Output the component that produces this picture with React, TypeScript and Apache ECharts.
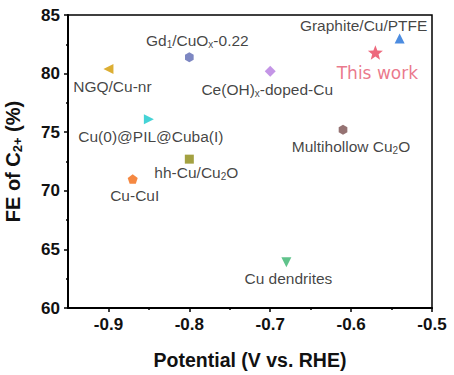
import React, { useEffect, useRef } from "react";
import * as echarts from "echarts";

const names = [
  "Graphite/Cu/PTFE",
  "This work",
  "Gd{sub|1}/CuO{sub|x}-0.22",
  "NGQ/Cu-nr",
  "Ce(OH){sub|x}-doped-Cu",
  "Cu(0)@PIL@Cuba(I)",
  "Multihollow Cu{sub|2}O",
  "hh-Cu/Cu{sub|2}O",
  "Cu-CuI",
  "Cu dendrites",
];
const potentials = [-0.54, -0.57, -0.8, -0.9, -0.7, -0.85, -0.61, -0.8, -0.87, -0.68];
const feValues = [83.0, 81.8, 81.4, 80.4, 80.2, 76.1, 75.2, 72.7, 71.0, 63.9];
const xTickLabels = [-0.9, -0.8, -0.7, -0.6, -0.5];
const xMinorTicks = [-0.85, -0.75, -0.65, -0.55];

const STAR = "path://M12,1 L14.9,8.6 23,9 16.7,14.1 18.8,22 12,17.5 5.2,22 7.3,14.1 1,9 9.1,8.6 Z";
const HEX = "path://M5,0 L9.33,2.5 9.33,7.5 5,10 0.67,7.5 0.67,2.5 Z";
const PENT = "path://M5,0 L9.76,3.45 7.94,9.05 2.06,9.05 0.24,3.45 Z";

const styles = [
  { symbol: "triangle", size: 10, rotate: 0, color: "#1f6fd8", offset: [-36, -13] },
  { symbol: STAR, size: 15, rotate: 0, color: "#e8435c", offset: [2, 20] },
  { symbol: HEX, size: 10, rotate: 0, color: "#5d69b3", offset: [8, -17] },
  { symbol: "triangle", size: 10, rotate: 90, color: "#d39a00", offset: [4, 18] },
  { symbol: "diamond", size: 11, rotate: 0, color: "#b57ae0", offset: [-3, 18] },
  { symbol: "triangle", size: 10, rotate: -90, color: "#17c8cc", offset: [2, 17] },
  { symbol: HEX, size: 10, rotate: 0, color: "#7a4f4f", offset: [8, 17] },
  { symbol: "rect", size: 9, rotate: 0, color: "#8c8a12", offset: [7, 13] },
  { symbol: PENT, size: 10, rotate: 0, color: "#f26a12", offset: [2, 16] },
  { symbol: "triangle", size: 10, rotate: 180, color: "#38b46e", offset: [2, 16] },
];

const FONT = "'Liberation Sans', Arial, sans-serif";

export default function App() {
  const ref = useRef<HTMLDivElement>(null);
  useEffect(() => {
    const chart = echarts.init(ref.current!, null, { renderer: "svg" });
    const labelRich = {
      sub: { fontSize: 10, verticalAlign: "bottom", lineHeight: 6, color: "#111", fontFamily: FONT },
    };
    const series = names.map((n, i) => {
      const s = styles[i];
      const isThis = i === 1;
      return {
        type: "scatter",
        name: n,
        data: [[potentials[i], feValues[i]]],
        symbol: s.symbol,
        symbolSize: s.size,
        symbolRotate: s.rotate,
        symbolKeepAspect: true,
        itemStyle: { color: s.color },
        label: {
          show: true,
          position: "inside",
          offset: s.offset,
          formatter: n,
          fontFamily: isThis ? "'DejaVu Sans', sans-serif" : FONT,
          fontSize: isThis ? 17 : 15.5,
          color: isThis ? "#e5566e" : "#111",
          lineHeight: 18,
          rich: labelRich,
        },
      };
    });
    chart.setOption({
      animation: false,
      grid: {
        left: 68,
        right: 22,
        top: 15,
        bottom: 67,
        show: true,
        borderColor: "#000",
        borderWidth: 1.5,
        outerBoundsMode: "none",
        containLabel: false,
      },
      xAxis: [
        {
          type: "value",
          min: -0.95,
          max: -0.5,
          position: "bottom",
          name: "Potential (V vs. RHE)",
          nameLocation: "middle",
          nameGap: 42,
          nameTextStyle: { fontFamily: FONT, fontSize: 19.5, fontWeight: "bold", color: "#111" },
          axisLine: { show: true, onZero: false, lineStyle: { color: "#000", width: 2 } },
          axisTick: { show: true, length: 4, customValues: xTickLabels, lineStyle: { color: "#000", width: 1.5 } },
          axisLabel: {
            customValues: xTickLabels,
            fontFamily: FONT,
            fontSize: 17,
            fontWeight: "bold",
            color: "#111",
            margin: 8,
            formatter: (v: number) => v.toFixed(1),
          },
          splitLine: { show: false },
        },
        {
          type: "value",
          min: -0.95,
          max: -0.5,
          position: "bottom",
          axisLine: { show: false, onZero: false },
          axisTick: { show: true, length: 2, customValues: xMinorTicks, lineStyle: { color: "#000", width: 1.5 } },
          axisLabel: { show: false },
          splitLine: { show: false },
        },
      ],
      yAxis: {
        type: "value",
        min: 60,
        max: 85,
        interval: 5,
        name: "FE of C{sub|2+} (%)",
        nameLocation: "middle",
        nameGap: 44,
        nameTextStyle: {
          fontFamily: FONT,
          fontSize: 20,
          fontWeight: "bold",
          color: "#111",
          lineHeight: 22,
          rich: {
            sub: { fontFamily: FONT, fontSize: 13, fontWeight: "bold", color: "#111", verticalAlign: "bottom", lineHeight: 8 },
          },
        },
        axisLine: { show: true, onZero: false, lineStyle: { color: "#000", width: 2 } },
        axisTick: { show: true, length: 4, lineStyle: { color: "#000", width: 1.5 } },
        minorTick: { show: true, splitNumber: 2, length: 2, lineStyle: { color: "#000", width: 1.5 } },
        axisLabel: { fontFamily: FONT, fontSize: 17, fontWeight: "bold", color: "#111", margin: 8 },
        splitLine: { show: false },
        minorSplitLine: { show: false },
      },
      series,
    });
    return () => chart.dispose();
  }, []);
  return (
    <div
      ref={ref}
      style={{ position: "fixed", left: 0, top: 0, width: 454, height: 375, background: "#fff" }}
    />
  );
}
